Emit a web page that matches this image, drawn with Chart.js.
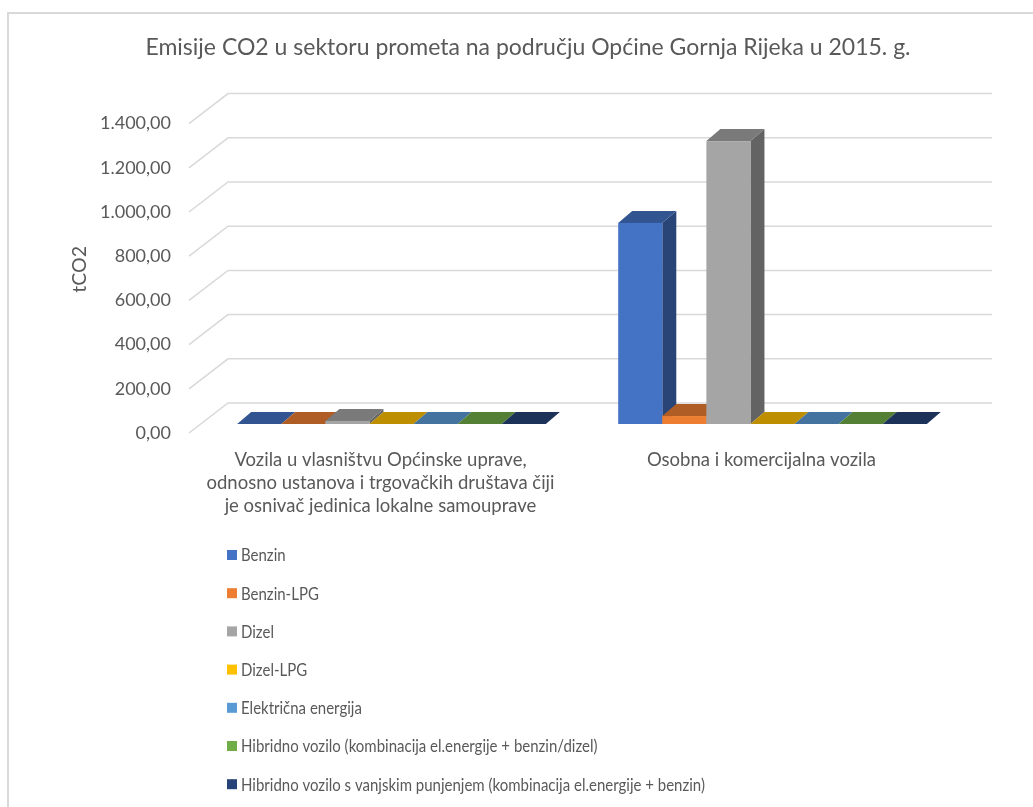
<!DOCTYPE html>
<html>
<head>
<meta charset="utf-8">
<script src="https://cdn.jsdelivr.net/npm/chart.js@4.4.1/dist/chart.umd.min.js"></script>
<style>
  html, body { margin: 0; padding: 0; background: #fff; }
  #wrap { width: 1033px; height: 807px; }
</style>
</head>
<body>
<div id="wrap"><canvas id="myChart" width="1033" height="807"></canvas></div>
<script>
var kategorije = [
    ['Vozila u vlasništvu Općinske uprave,', 'odnosno ustanova i trgovačkih društava čiji', 'je osnivač jedinica lokalne samouprave'],
    'Osobna i komercijalna vozila'
];

var nazivi = [
    'Benzin',
    'Benzin-LPG',
    'Dizel',
    'Dizel-LPG',
    'Električna energija',
    'Hibridno vozilo (kombinacija el.energije + benzin/dizel)',
    'Hibridno vozilo s vanjskim punjenjem (kombinacija el.energije + benzin)'
];

// tCO2 po kategoriji vozila
var benzin = [0, 910];
var benzinLpg = [0, 36];
var dizel = [14, 1280];
var dizelLpg = [0, 0];
var struja = [0, 0];
var hibrid = [0, 0];
var hibridPunjenje = [0, 0];

var boje = ['#4472C4', '#ED7D31', '#A5A5A5', '#FFC000', '#5B9BD5', '#70AD47', '#264478'];

var yTicks = [0, 200, 400, 600, 800, 1000, 1200, 1400];

var font = 'Lato, "Noto Sans", sans-serif';
var siva = '#595959';

// pomak za dubinu stupca i zida
var DX = 14, DY = -12;

function zatamni(hex, f) {
    var r = parseInt(hex.substr(1, 2), 16), g = parseInt(hex.substr(3, 2), 16), b = parseInt(hex.substr(5, 2), 16);
    return 'rgb(' + Math.round(r * f) + ',' + Math.round(g * f) + ',' + Math.round(b * f) + ')';
}

function broj(v) {
    var s = Math.round(v).toString().replace(/\B(?=(\d{3})+(?!\d))/g, '.');
    return s + ',00';
}

// okvir grafikona i bijela pozadina
var okvir = {
    id: 'okvir',
    beforeDraw: function(chart) {
        var c = chart.ctx;
        c.save();
        c.fillStyle = '#fff';
        c.fillRect(0, 0, chart.width, chart.height);
        c.strokeStyle = '#d9d9d9';
        c.lineWidth = 2;
        c.beginPath();
        c.moveTo(8, chart.height);
        c.lineTo(8, 13);
        c.lineTo(chart.width, 13);
        c.stroke();
        c.restore();
    }
};

// linije mreže na stražnjem zidu i podu, 3D stupci i legenda
var zid = {
    id: 'zid',
    beforeDatasetsDraw: function(chart) {
        var c = chart.ctx, y = chart.scales.y, a = chart.chartArea;
        c.save();
        c.strokeStyle = '#d9d9d9';
        c.lineWidth = 1.5;
        yTicks.forEach(function(v) {
            var py = y.getPixelForValue(v);
            c.beginPath();
            c.moveTo(a.left - 12, py + 9);
            c.lineTo(a.left + 27, py - 21);
            c.lineTo(a.right + 29, py - 21);
            c.stroke();
        });
        c.restore();
    },
    beforeDatasetDraw: function() {
        return false;
    },
    afterDatasetsDraw: function(chart) {
        var c = chart.ctx;
        var stupci = [];
        chart.data.datasets.forEach(function(ds, i) {
            chart.getDatasetMeta(i).data.forEach(function(el) {
                stupci.push({ el: el, boja: ds.backgroundColor });
            });
        });
        // slijeva nadesno, da prednja strana pokrije bočnu stranu susjeda
        stupci.sort(function(p, q) { return p.el.x - q.el.x; });
        c.save();
        stupci.forEach(function(s) {
            var el = s.el;
            var l = el.x - el.width / 2, r = el.x + el.width / 2;
            var t = Math.min(el.y, el.base), b = el.base;
            // bočna strana
            c.fillStyle = zatamni(s.boja, 0.6);
            c.beginPath();
            c.moveTo(r, t); c.lineTo(r + DX, t + DY); c.lineTo(r + DX, b + DY); c.lineTo(r, b);
            c.closePath(); c.fill();
            // gornja strana
            c.fillStyle = zatamni(s.boja, 0.74);
            c.beginPath();
            c.moveTo(l, t); c.lineTo(r, t); c.lineTo(r + DX, t + DY); c.lineTo(l + DX, t + DY);
            c.closePath(); c.fill();
            // prednja strana
            c.fillStyle = s.boja;
            c.fillRect(l, t, r - l, b - t);
        });
        c.restore();
    },
    afterDraw: function(chart) {
        // legenda u jednom stupcu ispod grafikona, malo sužen tekst
        var c = chart.ctx;
        c.save();
        c.font = '17px ' + font;
        c.textBaseline = 'middle';
        chart.data.datasets.forEach(function(ds, i) {
            var y = 555 + i * 38.2;
            c.fillStyle = ds.backgroundColor;
            c.fillRect(227, y - 5, 10, 10);
            c.fillStyle = siva;
            c.save();
            c.translate(241, y + 1);
            c.scale(0.882, 1);
            c.fillText(ds.label, 0, 0);
            c.restore();
        });
        c.restore();
    }
};

function graf() {
    var ctx = document.getElementById('myChart').getContext('2d');
    var serije = [benzin, benzinLpg, dizel, dizelLpg, struja, hibrid, hibridPunjenje];

    chart = new Chart(ctx, {
        type: 'bar',
        data: {
            labels: kategorije,
            datasets: serije.map(function(d, i) {
                return {
                    label: nazivi[i],
                    data: d,
                    backgroundColor: boje[i],
                    categoryPercentage: 0.81,
                    barPercentage: 1
                };
            })
        },
        options: {
            responsive: false,
            animation: false,
            layout: { padding: { left: 93, right: 70, top: 0, bottom: 0 } },
            plugins: {
                legend: { display: false },
                tooltip: { enabled: false },
                title: {
                    display: true,
                    text: 'Emisije CO2 u sektoru prometa na području Općine Gornja Rijeka u 2015. g.',
                    color: siva,
                    font: { family: font, size: 23, weight: 'normal' },
                    padding: { top: 34, bottom: 53 }
                }
            },
            scales: {
                x: {
                    grid: { display: false, drawTicks: false },
                    border: { display: false },
                    ticks: {
                        color: siva,
                        font: { family: font, size: 18.5, lineHeight: 1.243 },
                        maxRotation: 0,
                        autoSkip: false,
                        padding: 24.5,
                        labelOffset: -11
                    },
                    afterFit: function(s) { s.height = 383; }
                },
                y: {
                    min: 0,
                    max: 1400,
                    grid: { display: false, drawTicks: false },
                    border: { display: false },
                    ticks: {
                        stepSize: 200,
                        color: siva,
                        font: { family: font, size: 18 },
                        padding: 30,
                        labelOffset: 9,
                        callback: function(v) { return broj(v); }
                    },
                    title: {
                        display: true,
                        text: 'tCO2',
                        color: siva,
                        font: { family: font, size: 19.5 },
                        padding: { top: -25, bottom: 0 }
                    },
                    afterFit: function(s) { s.width = 108; }
                }
            }
        },
        plugins: [okvir, zid]
    });
}

graf();
</script>
</body>
</html>
